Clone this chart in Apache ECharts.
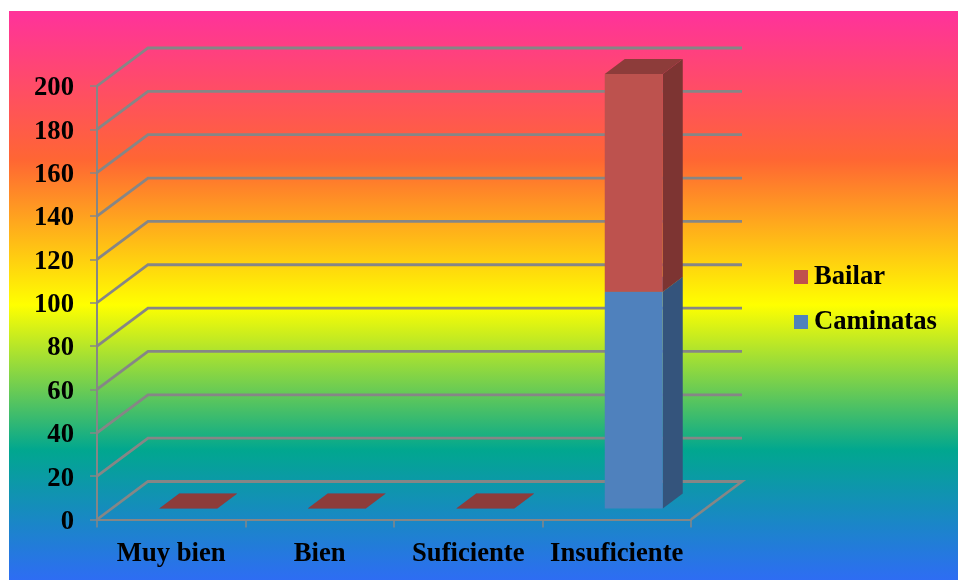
<!DOCTYPE html>
<html>
<head>
<meta charset="utf-8">
<title>Chart</title>
<script src="https://cdn.jsdelivr.net/npm/echarts@6/dist/echarts.min.js"></script>
<style>
html, body { margin: 0; padding: 0; background: #fff; }
#chart { width: 958px; height: 580px; }
</style>
</head>
<body>
<div id="chart"></div>
<script>
var categories = ['Muy bien', 'Bien', 'Suficiente', 'Insuficiente'];
var caminatas = [0, 0, 0, 100];
var bailar = [0, 0, 0, 100.5];
var wallTicks = [0, 20, 40, 60, 80, 100, 120, 140, 160, 180, 200];

var fontName = '"Liberation Serif", "Times New Roman", serif';
var lineColor = '#868686';

// depth of the fake 3d box, in pixels
var depthX = 51, depthY = 38;

function renderWall(params, api) {
    var box = params.coordSys;
    var y = api.coord([0, api.value(0)])[1];
    var pts = [[box.x, y], [box.x + depthX, y - depthY], [box.x + box.width + depthX, y - depthY]];
    if (api.value(0) === 0) {
        pts.push([box.x + box.width, y]);
    }
    return {
        type: 'polyline',
        shape: { points: pts },
        style: { fill: null, stroke: lineColor, lineWidth: 2.8 }
    };
}

function barRenderer(colors, getBase, getValue) {
    return function (params, api) {
        var i = api.value(0);
        var base = getBase(i);
        var top = base + getValue(i);
        var width = 58;
        var left = api.coord([i, 0])[0] - width / 2 + 17;
        var yBase = api.coord([i, base])[1] - 11;
        var yTop = api.coord([i, top])[1] - 11;
        var dx = 20, dy = 15;
        return {
            type: 'group',
            children: [
                { type: 'polygon', shape: { points: [[left + width, yBase], [left + width + dx, yBase - dy], [left + width + dx, yTop - dy], [left + width, yTop]] }, style: { fill: colors.side } },
                { type: 'polygon', shape: { points: [[left, yTop], [left + dx, yTop - dy], [left + width + dx, yTop - dy], [left + width, yTop]] }, style: { fill: colors.top } },
                { type: 'rect', shape: { x: left, y: yTop, width: width, height: yBase - yTop }, style: { fill: colors.front } }
            ]
        };
    };
}

var myChart = echarts.init(document.getElementById('chart'));

var option = {
    animation: false,
    backgroundColor: '#fff',
    textStyle: { fontFamily: fontName },
    graphic: [{
        type: 'rect',
        z: -10,
        silent: true,
        shape: { x: 9, y: 11, width: 949, height: 569 },
        style: {
            // gradient runs a bit past the bottom of the panel
            fill: new echarts.graphic.LinearGradient(0, 15, 0, 595, [
                { offset: 0, color: '#ff3399' },
                { offset: 0.25, color: '#ff6633' },
                { offset: 0.5, color: '#ffff00' },
                { offset: 0.75, color: '#01a78f' },
                { offset: 1, color: '#3366ff' }
            ], true)
        }
    }],
    grid: { left: 97, right: 267, top: 86, bottom: 60.5 },
    legend: {
        data: ['Bailar', 'Caminatas'],
        orient: 'vertical',
        left: 794,
        top: 262,
        padding: 0,
        itemWidth: 14,
        itemHeight: 14,
        itemGap: 15,
        icon: 'rect',
        textStyle: { fontFamily: fontName, fontWeight: 'bold', fontSize: 26.67, lineHeight: 30, color: '#000', padding: [0, 0, 0, 1] }
    },
    xAxis: {
        type: 'category',
        data: categories,
        axisLine: { lineStyle: { color: lineColor, width: 2 } },
        axisTick: { show: true, alignWithLabel: false, length: 8, lineStyle: { color: lineColor, width: 1.5 } },
        axisLabel: { interval: 0, fontFamily: fontName, fontWeight: 'bold', fontSize: 26.67, color: '#000', margin: 21 }
    },
    yAxis: {
        type: 'value',
        min: 0,
        max: 200,
        interval: 20,
        splitLine: { show: false },
        axisLine: { show: true, lineStyle: { color: lineColor, width: 2 } },
        axisTick: { show: true, length: 7, lineStyle: { color: lineColor, width: 1.5 } },
        // top aligned so the padding can push the numbers a little below their ticks
        axisLabel: { fontFamily: fontName, fontWeight: 'bold', fontSize: 26.67, lineHeight: 27, color: '#000', margin: 23, verticalAlign: 'top', padding: [-11, 0, 0, 0] }
    },
    series: [
        {
            type: 'custom',
            name: 'walls',
            z: 1,
            silent: true,
            encode: { y: 0 },
            data: wallTicks,
            renderItem: renderWall
        },
        {
            type: 'custom',
            name: 'Caminatas',
            z: 2,
            itemStyle: { color: '#4f81bd' },
            encode: { x: 0, y: 1 },
            data: caminatas.map(function (v, i) { return [i, v]; }),
            renderItem: barRenderer({ front: '#4f81bd', side: '#34547c', top: '#3f6797' },
                function () { return 0; },
                function (i) { return caminatas[i]; })
        },
        {
            type: 'custom',
            name: 'Bailar',
            z: 3,
            itemStyle: { color: '#c0504d' },
            encode: { x: 0, y: 1 },
            data: bailar.map(function (v, i) { return [i, caminatas[i] + v]; }),
            renderItem: barRenderer({ front: '#bd524e', side: '#7d3432', top: '#8d3c3a' },
                function (i) { return caminatas[i]; },
                function (i) { return bailar[i]; })
        }
    ]
};

myChart.setOption(option);
</script>
</body>
</html>
